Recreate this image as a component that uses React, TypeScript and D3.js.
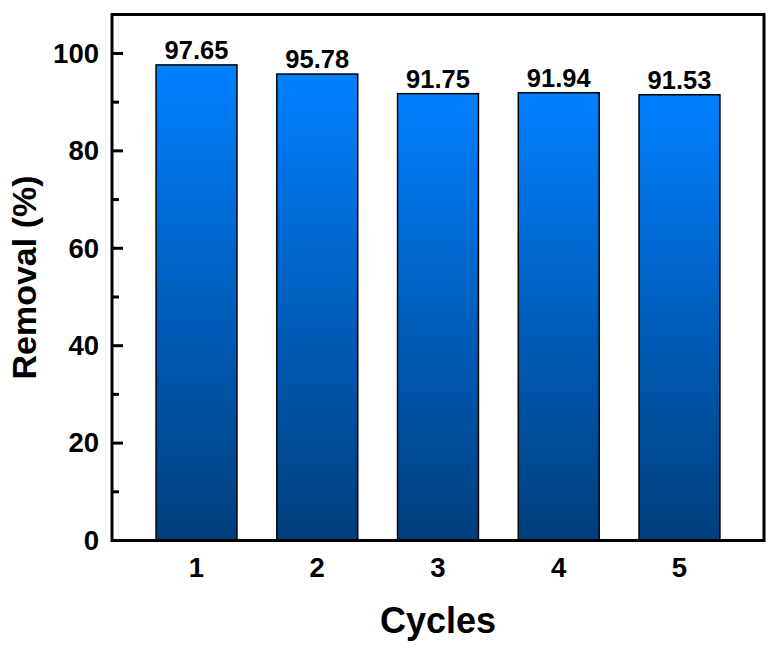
import React from "react";
import * as d3 from "d3";

const cycles = [1, 2, 3, 4, 5];
const removal = [97.65, 95.78, 91.75, 91.94, 91.53];
const valueLabels = ["97.65", "95.78", "91.75", "91.94", "91.53"];
const yMajorTicks = [0, 20, 40, 60, 80, 100];
const yMinorTicks = [10, 30, 50, 70, 90];

const W = 780;
const H = 653;
const left = 112;
const right = 764;
const top = 14.5;
const bottom = 540.5;

export default function App() {
  const x = d3.scaleLinear().domain([0.3, 5.7]).range([left, right]);
  const y = d3.scaleLinear().domain([0, 108]).range([bottom, top]);
  const barW = (x(2) - x(1)) * 0.67;
  const font = "'Liberation Sans', Arial, Helvetica, sans-serif";

  return (
    <svg
      width={W}
      height={H}
      style={{ position: "absolute", left: 0, top: 0, background: "#fff" }}
      fontFamily={font}
    >
      <defs>
        <linearGradient id="barGrad" x1="0" y1="0" x2="0" y2="1">
          <stop offset="0%" stopColor="#0080FF" />
          <stop offset="100%" stopColor="#003E7C" />
        </linearGradient>
      </defs>

      {cycles.map((c, i) => (
        <rect
          key={c}
          x={x(c) - barW / 2}
          y={y(removal[i])}
          width={barW}
          height={y(0) - y(removal[i])}
          fill="url(#barGrad)"
          stroke="#000"
          strokeWidth={1.5}
        />
      ))}

      {cycles.map((c, i) => (
        <text
          key={"v" + c}
          x={x(c)}
          y={y(removal[i]) - 6}
          textAnchor="middle"
          fontSize={25.5}
          fontWeight="bold"
          fill="#000"
        >
          {valueLabels[i]}
        </text>
      ))}

      {yMinorTicks.map((t) => (
        <line key={"mi" + t} x1={left} x2={left + 7} y1={y(t)} y2={y(t)} stroke="#000" strokeWidth={3} />
      ))}
      {yMajorTicks.map((t) => (
        <line key={"ma" + t} x1={left} x2={left + 11} y1={y(t)} y2={y(t)} stroke="#000" strokeWidth={3} />
      ))}
      {yMajorTicks.map((t) => (
        <text
          key={"yl" + t}
          x={left - 13}
          y={y(t)}
          dy="0.34em"
          textAnchor="end"
          fontSize={27.5}
          fontWeight="bold"
          fill="#000"
        >
          {t}
        </text>
      ))}

      {cycles.map((c) => (
        <text
          key={"xl" + c}
          x={x(c)}
          y={577}
          textAnchor="middle"
          fontSize={27.5}
          fontWeight="bold"
          fill="#000"
        >
          {c}
        </text>
      ))}

      <rect
        x={left}
        y={top}
        width={right - left}
        height={bottom - top}
        fill="none"
        stroke="#000"
        strokeWidth={3}
      />

      <text x={(left + right) / 2} y={633} textAnchor="middle" fontSize={36} fontWeight="bold" fill="#000">
        Cycles
      </text>
      <text
        transform={`translate(36, ${(top + bottom) / 2}) rotate(-90)`}
        textAnchor="middle"
        fontSize={34}
        fontWeight="bold"
        fill="#000"
      >
        Removal (%)
      </text>
    </svg>
  );
}
